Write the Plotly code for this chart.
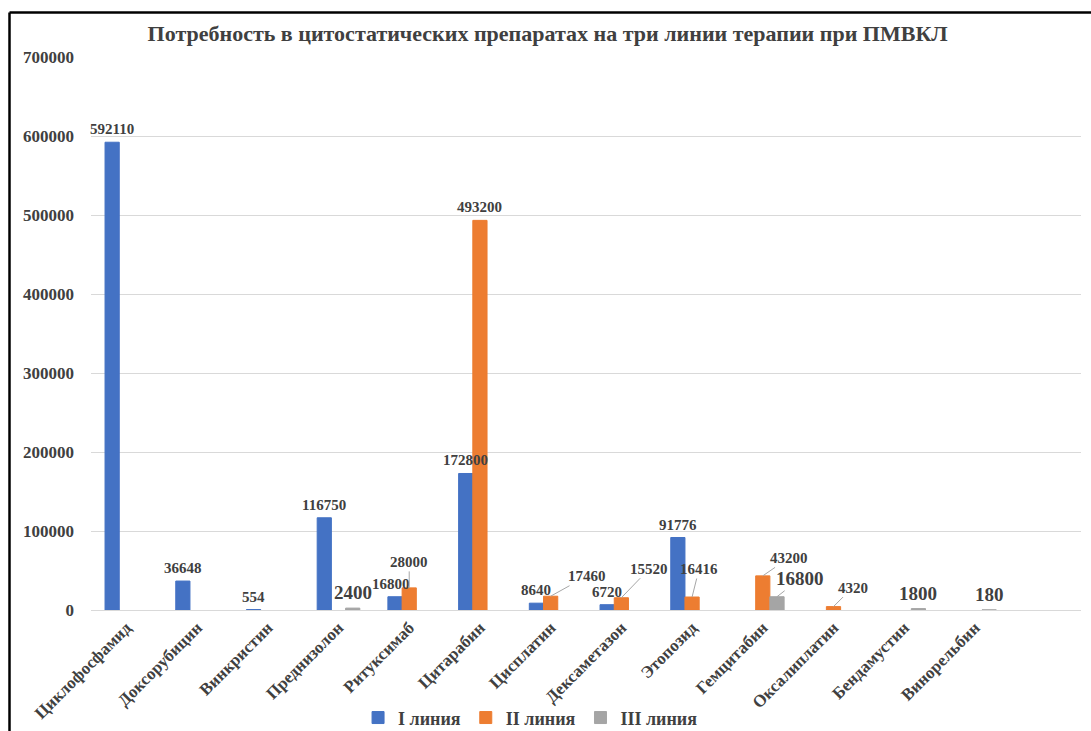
import plotly.graph_objects as go

categories = ["Циклофосфамид", "Доксорубицин", "Винкристин", "Преднизолон", "Ритуксимаб",
              "Цитарабин", "Цисплатин", "Дексаметазон", "Этопозид", "Гемцитабин",
              "Оксалиплатин", "Бендамустин", "Винорельбин"]
line1 = [592110, 36648, 554, 116750, 16800, 172800, 8640, 6720, 91776, None, None, None, None]
line2 = [None, None, None, None, 28000, 493200, 17460, 15520, 16416, 43200, 4320, None, None]
line3 = [None, None, None, 2400, None, None, None, None, None, 16800, None, 1800, 180]
series_names = ["I линия", "II линия", "III линия"]
colors = ["#4472C4", "#ED7D31", "#A5A5A5"]
y_ticks = [0, 100000, 200000, 300000, 400000, 500000, 600000, 700000]

FONT = "Liberation Serif, Times New Roman, serif"
TXT = "#404040"

fig = go.Figure()
for name, vals, col in zip(series_names, [line1, line2, line3], colors):
    fig.add_trace(go.Bar(x=categories, y=vals, name=name,
                         marker=dict(color=col, line=dict(color=col, width=1))))

bar_shift = [-14.2, 0, 14.2]
leader = {
    (1, "Ритуксимаб"): (0, -26),
    (1, "Цисплатин"): (36, -20),
    (1, "Дексаметазон"): (28, -29),
    (1, "Этопозид"): (7, -28),
    (1, "Гемцитабин"): (26, -18),
    (2, "Гемцитабин"): (23, -18),
    (1, "Оксалиплатин"): (19, -19),
}
big = {(2, "Преднизолон"), (2, "Гемцитабин"), (2, "Бендамустин"), (2, "Винорельбин")}
text_dx = {(0, "Ритуксимаб"): -4}

annotations = []
for si, vals in enumerate([line1, line2, line3]):
    for cat, v in zip(categories, vals):
        if v is None:
            continue
        key = (si, cat)
        size = 19 if key in big else 15
        a = dict(x=cat, y=v, xref="x", yref="y", text=str(v),
                 font=dict(family=FONT, size=size, color=TXT, weight="bold"),
                 xshift=bar_shift[si])
        if key in leader:
            ax, ay = leader[key]
            a.update(showarrow=True, arrowhead=0, arrowwidth=1, arrowcolor="#A6A6A6",
                     ax=ax, ay=ay, standoff=0)
        else:
            a.update(showarrow=False, yanchor="bottom", yshift=3,
                     xshift=bar_shift[si] + text_dx.get(key, 0))
        annotations.append(a)

fig.update_layout(
    width=1091, height=731,
    template="none",
    paper_bgcolor="white", plot_bgcolor="white",
    margin=dict(l=91, r=10, t=57, b=121, autoexpand=False),
    barmode="group", bargap=0.397, bargroupgap=0,
    title=dict(text="Потребность в цитостатических препаратах на три линии терапии при ПМВКЛ",
               x=0.502, xanchor="center", y=1 - 33 / 731, yanchor="middle",
               font=dict(family=FONT, size=22, color=TXT, weight="bold")),
    xaxis=dict(type="category", range=[-0.5, 13.5], tickangle=-45, showgrid=False,
               showline=True, linecolor="#D9D9D9", linewidth=1, ticks="", automargin=False,
               tickfont=dict(family=FONT, size=17, color=TXT, weight="bold")),
    yaxis=dict(range=[0, 700000], tickvals=y_ticks, ticktext=[str(t) for t in y_ticks],
               showgrid=True, gridcolor="#D9D9D9", gridwidth=1, zeroline=False,
               showline=False, ticks="", automargin=False, ticklabelstandoff=16,
               tickfont=dict(family=FONT, size=17, color=TXT, weight="bold")),
    legend=dict(orientation="h", x=0.444, xanchor="center", y=-0.195, yanchor="middle",
                font=dict(family=FONT, size=18, color=TXT, weight="bold"),
                bgcolor="rgba(0,0,0,0)", itemwidth=30, traceorder="normal"),
    annotations=annotations,
    shapes=[
        dict(type="line", xref="paper", yref="paper", x0=(9.5 - 91) / 990, x1=(1091 - 91) / 990,
             y0=(610 - 12.5) / 553, y1=(610 - 12.5) / 553, line=dict(color="black", width=2.5)),
        dict(type="line", xref="paper", yref="paper", x0=(9.5 - 91) / 990, x1=(9.5 - 91) / 990,
             y0=(610 - 12.5) / 553, y1=(610 - 731) / 553, line=dict(color="black", width=2.5)),
    ],
)

fig.write_html("out.html", config={"displayModeBar": False},
               post_script="document.body.style.margin='0';document.body.style.overflow='hidden';")
